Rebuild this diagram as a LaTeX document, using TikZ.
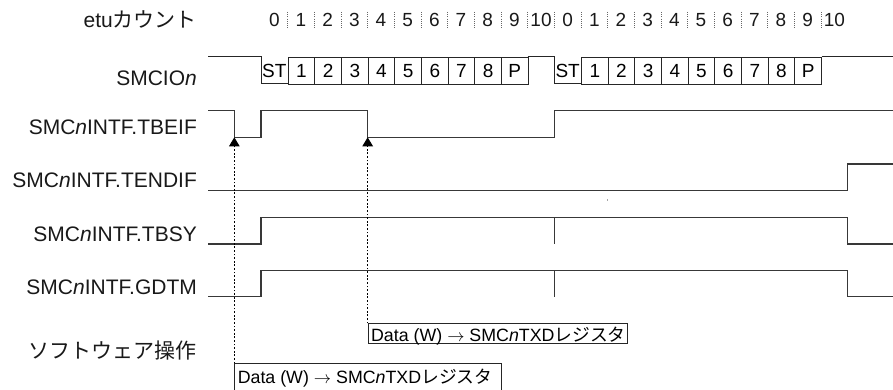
\documentclass[tikz,border=0pt]{standalone}
\usepackage{fontspec}
\setmainfont{Liberation Sans}
\newfontfamily\jp{Noto Sans CJK JP}
\usetikzlibrary{arrows.meta}
\begin{document}
\begin{tikzpicture}[x=1pt,y=-1pt,
  sig/.style={draw=black!78, line width=1.25pt, line join=miter},
  cellbox/.style={draw=black!85, line width=0.9pt, minimum width=26.667pt, minimum height=27pt, inner sep=0pt, font=\fontsize{19}{19}\selectfont, anchor=north west},
  celltext/.style={inner sep=0pt, font=\fontsize{19}{19}\selectfont},
  lbl/.style={anchor=base east, font=\fontsize{21}{21}\selectfont, inner sep=0pt, text=black!90},
  cnt/.style={anchor=base, font=\fontsize{19}{19}\selectfont, inner sep=0pt, text=black!90},
  sepline/.style={draw=black!60, line width=0.6pt, dash pattern=on 1pt off 1.2pt},
  dotl/.style={draw=black, line width=0.85pt, dash pattern=on 1.8pt off 1.8pt},
  tiparrow/.style={-{Triangle[width=10.5pt,length=9pt]}},
  databox/.style={draw=black!85, line width=0.9pt, anchor=north west, font=\fontsize{17.8}{17.8}\selectfont, inner xsep=3pt, inner ysep=0pt, text height=16.5pt}
]
\useasboundingbox (0,0) rectangle (893,390);

% ---- row labels
\node[lbl] (l0) at (197,28) {etu{\jp カウント}};
\node[lbl] (l1) at (197,86) {SMCIO\textit{n}};
\node[lbl] (l2) at (197,135) {SMC\textit{n}INTF.TBEIF};
\node[lbl] (l3) at (197,187) {SMC\textit{n}INTF.TENDIF};
\node[lbl] (l4) at (197,241) {SMC\textit{n}INTF.TBSY};
\node[lbl] (l5) at (197,294) {SMC\textit{n}INTF.GDTM};
\node[lbl] (l6) at (197,358) {\jp ソフトウェア操作};

% ---- etu count
\foreach \k in {0,...,21}{
  \pgfmathsetmacro{\xx}{261+(\k+0.5)*26.6667}
  \pgfmathtruncatemacro{\lab}{mod(\k,11)}
  \node[cnt] (e\k) at (\xx,27) {\lab};
}
\foreach \k in {1,...,21}{
  \pgfmathsetmacro{\xx}{261+\k*26.6667}
  \draw[sepline] (\xx,12) -- (\xx,28);
}

% ---- SMCIOn
\draw[sig, line width=1pt, draw=black!85] (208,57) -- (261,57) -- (261,84) -- (288.33,84);
\draw[sig, line width=1pt, draw=black!85] (527.67,57) -- (554.33,57) -- (554.33,84) -- (581,84);
\draw[sig, line width=1pt, draw=black!85] (821.67,57) -- (893,57);
\foreach \f in {0,1}{
  \pgfmathsetmacro{\st}{261+\f*293.3333}
  \node[celltext] (st\f) at (\st+13.333,70.5) {ST};
  \foreach \k/\t in {1/1,2/2,3/3,4/4,5/5,6/6,7/7,8/8,9/P}{
    \node[cellbox] (b\f-\k) at (\st+\k*26.6667,57) {\t};
  }
}

% ---- TBEIF
\draw[sig] (208,110.7) -- (234.33,110.7) -- (234.33,137.3) -- (261,137.3) -- (261,110.7)
  -- (367.67,110.7) -- (367.67,137.3) -- (554.33,137.3) -- (554.33,110.7) -- (893,110.7);
\coordinate (t1) at (234.33,137.3);
\coordinate (t2) at (367.67,137.3);

% ---- TENDIF
\draw[sig] (208,190.7) -- (847.67,190.7) -- (847.67,164) -- (893,164);

% ---- TBSY
\draw[sig] (208,244) -- (261,244) -- (261,217.3) -- (847.67,217.3) -- (847.67,244) -- (893,244);
\draw[sig] (554.33,217.3) -- (554.33,244);

% ---- GDTM
\draw[sig] (208,296.7) -- (261,296.7) -- (261,270.7) -- (847.67,270.7) -- (847.67,296.7) -- (893,296.7);
\draw[sig] (554.33,270.7) -- (554.33,296.7);

% stray dot
\fill[black!35] (607.2,199.4) rectangle (608.4,200.6);

% ---- software operations
\node[databox, text depth=0.5pt, minimum height=20pt] (d1) at (367.67,323.3)
  {\makebox[253pt][l]{Data (W) $\rightarrow$ SMC\textit{n}TXD{\jp レジスタ}}};
\node[databox, text depth=5pt, minimum height=28pt] (d2) at (234.33,363.3)
  {\makebox[261pt][l]{Data (W) $\rightarrow$ SMC\textit{n}TXD{\jp レジスタ}}};

\draw[dotl, tiparrow] (d1.north west) -- (t2);
\draw[dotl, tiparrow] (d2.north west) -- (t1);
\end{tikzpicture}
\end{document}
